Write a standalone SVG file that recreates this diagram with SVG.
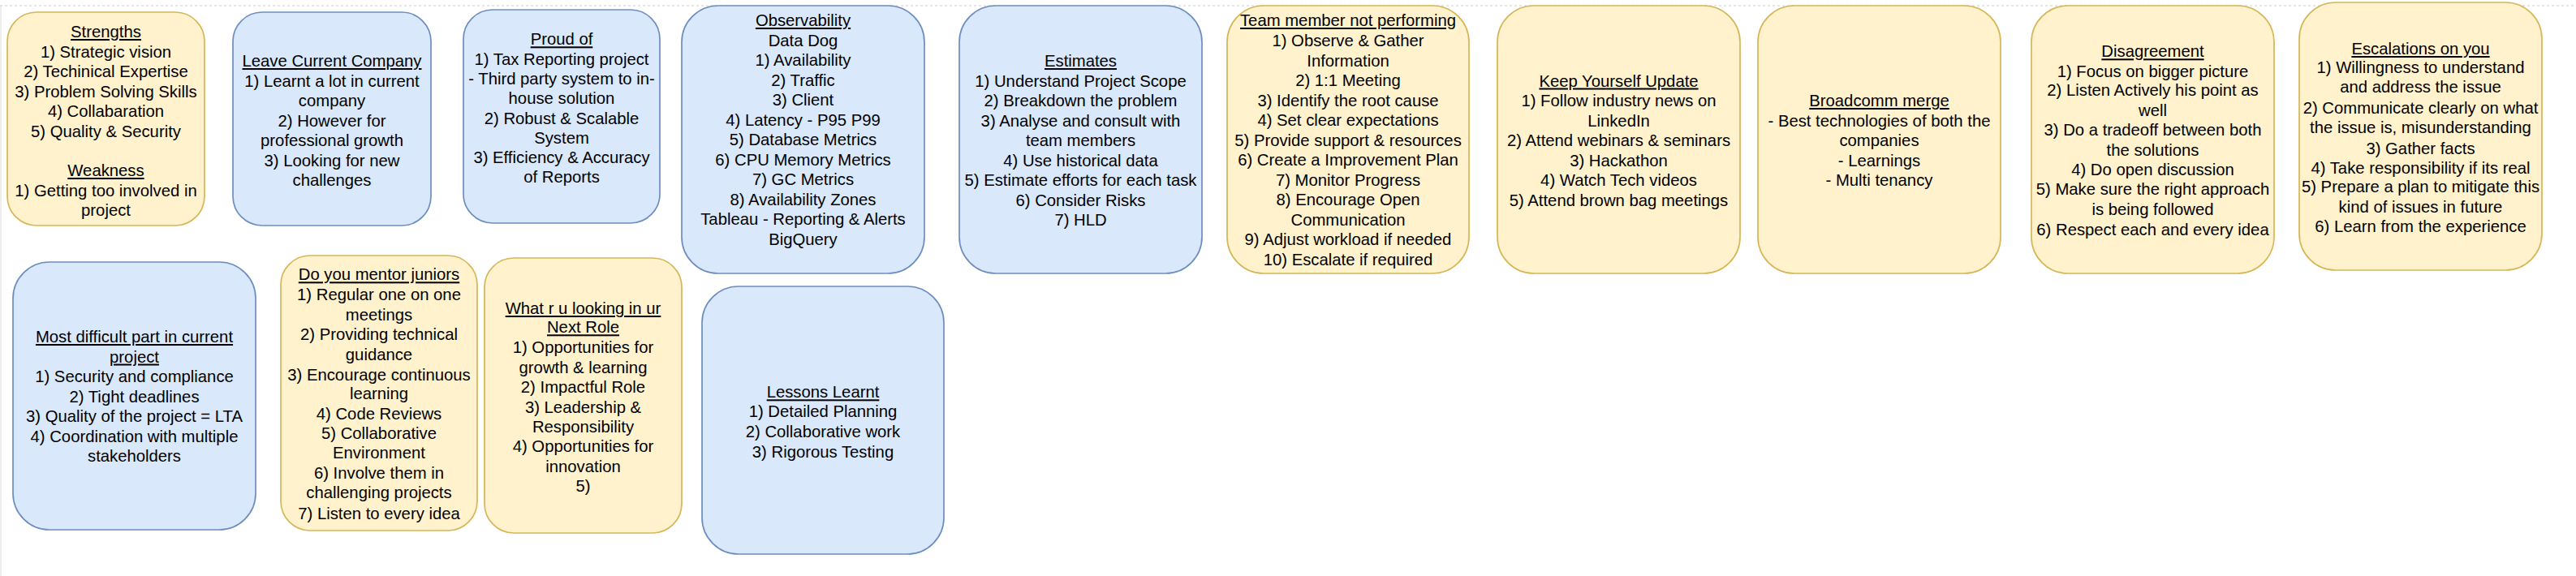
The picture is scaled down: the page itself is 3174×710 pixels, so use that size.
<svg xmlns="http://www.w3.org/2000/svg" width="3174" height="710" viewBox="0 0 3174 710">
<style>
.y{fill:#fff2cc;stroke:#d6b656;stroke-width:1.7}
.b{fill:#dae8fc;stroke:#6c8ebf;stroke-width:1.7}
text{font-family:"Liberation Sans",Arial,Helvetica,sans-serif;font-size:20.3px;fill:#000;text-anchor:middle}
.u{text-decoration:underline}
</style>
<rect width="3174" height="710" fill="#ffffff"/>
<line x1="0" y1="7" x2="3174" y2="7" stroke="#cccccc" stroke-width="1" stroke-dasharray="3,3"/>
<line x1="1" y1="7" x2="1" y2="710" stroke="#dddddd" stroke-width="1"/>
<g id="connectors"/>
<g id="node-strengths">
<rect class="y" x="9" y="15" width="243" height="263" rx="36" ry="36"/>
<text><tspan class="u" x="130.5" y="46">Strengths</tspan><tspan x="130.5" y="70.5">1) Strategic vision</tspan><tspan x="130.5" y="95">2) Techinical Expertise</tspan><tspan x="130.5" y="119.5">3) Problem Solving Skills</tspan><tspan x="130.5" y="144">4) Collabaration</tspan><tspan x="130.5" y="168.5">5) Quality &amp; Security</tspan><tspan class="u" x="130.5" y="217">Weakness</tspan><tspan x="130.5" y="241.5">1) Getting too involved in</tspan><tspan x="130.5" y="266">project</tspan></text>
</g>
<g id="node-leave">
<rect class="b" x="287" y="15" width="244" height="263" rx="36" ry="36"/>
<text><tspan class="u" x="409" y="82">Leave Current Company</tspan><tspan x="409" y="106.5">1) Learnt a lot in current</tspan><tspan x="409" y="131">company</tspan><tspan x="409" y="155.5">2) However for</tspan><tspan x="409" y="180">professional growth</tspan><tspan x="409" y="204.5">3) Looking for new</tspan><tspan x="409" y="229">challenges</tspan></text>
</g>
<g id="node-proud">
<rect class="b" x="571" y="12" width="242" height="263" rx="36" ry="36"/>
<text><tspan class="u" x="692" y="55.3">Proud of</tspan><tspan x="692" y="79.6">1) Tax Reporting project</tspan><tspan x="692" y="103.9">- Third party system to in-</tspan><tspan x="692" y="128.2">house solution</tspan><tspan x="692" y="152.5">2) Robust &amp; Scalable</tspan><tspan x="692" y="176.8">System</tspan><tspan x="692" y="201.1">3) Efficiency &amp; Accuracy</tspan><tspan x="692" y="225.4">of Reports</tspan></text>
</g>
<g id="node-observability">
<rect class="b" x="840" y="7" width="299" height="330" rx="45" ry="45"/>
<text><tspan class="u" x="989.5" y="32">Observability</tspan><tspan x="989.5" y="56.5">Data Dog</tspan><tspan x="989.5" y="81">1) Availability</tspan><tspan x="989.5" y="105.5">2) Traffic</tspan><tspan x="989.5" y="130">3) Client</tspan><tspan x="989.5" y="154.5">4) Latency - P95 P99</tspan><tspan x="989.5" y="179">5) Database Metrics</tspan><tspan x="989.5" y="203.5">6) CPU Memory Metrics</tspan><tspan x="989.5" y="228">7) GC Metrics</tspan><tspan x="989.5" y="252.5">8) Availability Zones</tspan><tspan x="989.5" y="277">Tableau - Reporting &amp; Alerts</tspan><tspan x="989.5" y="301.5">BigQuery</tspan></text>
</g>
<g id="node-estimates">
<rect class="b" x="1182" y="7" width="299" height="330" rx="45" ry="45"/>
<text><tspan class="u" x="1331.5" y="82">Estimates</tspan><tspan x="1331.5" y="106.5">1) Understand Project Scope</tspan><tspan x="1331.5" y="131">2) Breakdown the problem</tspan><tspan x="1331.5" y="155.5">3) Analyse and consult with</tspan><tspan x="1331.5" y="180">team members</tspan><tspan x="1331.5" y="204.5">4) Use historical data</tspan><tspan x="1331.5" y="229">5) Estimate efforts for each task</tspan><tspan x="1331.5" y="253.5">6) Consider Risks</tspan><tspan x="1331.5" y="278">7) HLD</tspan></text>
</g>
<g id="node-team-member">
<rect class="y" x="1512" y="7" width="298" height="330" rx="45" ry="45"/>
<text><tspan class="u" x="1661" y="32">Team member not performing</tspan><tspan x="1661" y="56.5">1) Observe &amp; Gather</tspan><tspan x="1661" y="81.5">Information</tspan><tspan x="1661" y="106">2) 1:1 Meeting</tspan><tspan x="1661" y="130.5">3) Identify the root cause</tspan><tspan x="1661" y="155">4) Set clear expectations</tspan><tspan x="1661" y="179.5">5) Provide support &amp; resources</tspan><tspan x="1661" y="204">6) Create a Improvement Plan</tspan><tspan x="1661" y="228.5">7) Monitor Progress</tspan><tspan x="1661" y="253">8) Encourage Open</tspan><tspan x="1661" y="277.5">Communication</tspan><tspan x="1661" y="302">9) Adjust workload if needed</tspan><tspan x="1661" y="326.5">10) Escalate if required</tspan></text>
</g>
<g id="node-keep-update">
<rect class="y" x="1845" y="7" width="299" height="330" rx="45" ry="45"/>
<text><tspan class="u" x="1994.5" y="106.5">Keep Yourself Update</tspan><tspan x="1994.5" y="131">1) Follow industry news on</tspan><tspan x="1994.5" y="155.5">LinkedIn</tspan><tspan x="1994.5" y="180">2) Attend webinars &amp; seminars</tspan><tspan x="1994.5" y="204.5">3) Hackathon</tspan><tspan x="1994.5" y="229">4) Watch Tech videos</tspan><tspan x="1994.5" y="253.5">5) Attend brown bag meetings</tspan></text>
</g>
<g id="node-broadcomm">
<rect class="y" x="2166" y="7" width="299" height="330" rx="45" ry="45"/>
<text><tspan class="u" x="2315.5" y="131">Broadcomm merge</tspan><tspan x="2315.5" y="155.5">- Best technologies of both the</tspan><tspan x="2315.5" y="180">companies</tspan><tspan x="2315.5" y="204.5">- Learnings</tspan><tspan x="2315.5" y="229">- Multi tenancy</tspan></text>
</g>
<g id="node-disagreement">
<rect class="y" x="2503" y="7" width="299" height="330" rx="45" ry="45"/>
<text><tspan class="u" x="2652.5" y="70.3">Disagreement</tspan><tspan x="2652.5" y="94.5">1) Focus on bigger picture</tspan><tspan x="2652.5" y="118">2) Listen Actively his point as</tspan><tspan x="2652.5" y="143">well</tspan><tspan x="2652.5" y="167">3) Do a tradeoff between both</tspan><tspan x="2652.5" y="192">the solutions</tspan><tspan x="2652.5" y="216.3">4) Do open discussion</tspan><tspan x="2652.5" y="240.3">5) Make sure the right approach</tspan><tspan x="2652.5" y="265.3">is being followed</tspan><tspan x="2652.5" y="289.7">6) Respect each and every idea</tspan></text>
</g>
<g id="node-escalations">
<rect class="y" x="2833" y="3" width="299" height="330" rx="45" ry="45"/>
<text><tspan class="u" x="2982.5" y="67">Escalations on you</tspan><tspan x="2982.5" y="90.3">1) Willingness to understand</tspan><tspan x="2982.5" y="114.3">and address the issue</tspan><tspan x="2982.5" y="140.3">2) Communicate clearly on what</tspan><tspan x="2982.5" y="163.7">the issue is, misunderstanding</tspan><tspan x="2982.5" y="189.7">3) Gather facts</tspan><tspan x="2982.5" y="213.7">4) Take responsibility if its real</tspan><tspan x="2982.5" y="237">5) Prepare a plan to mitigate this</tspan><tspan x="2982.5" y="262">kind of issues in future</tspan><tspan x="2982.5" y="286.3">6) Learn from the experience</tspan></text>
</g>
<g id="node-most-difficult">
<rect class="b" x="16" y="323" width="299" height="330" rx="45" ry="45"/>
<text><tspan class="u" x="165.5" y="422">Most difficult part in current</tspan><tspan class="u" x="165.5" y="446.5">project</tspan><tspan x="165.5" y="471">1) Security and compliance</tspan><tspan x="165.5" y="495.5">2) Tight deadlines</tspan><tspan x="165.5" y="520">3) Quality of the project = LTA</tspan><tspan x="165.5" y="544.5">4) Coordination with multiple</tspan><tspan x="165.5" y="569">stakeholders</tspan></text>
</g>
<g id="node-mentor">
<rect class="y" x="346" y="315" width="242" height="339" rx="36" ry="36"/>
<text><tspan class="u" x="467" y="345.3">Do you mentor juniors</tspan><tspan x="467" y="369.7">1) Regular one on one</tspan><tspan x="467" y="395.3">meetings</tspan><tspan x="467" y="418.7">2) Providing technical</tspan><tspan x="467" y="443.7">guidance</tspan><tspan x="467" y="468.7">3) Encourage continuous</tspan><tspan x="467" y="492">learning</tspan><tspan x="467" y="517">4) Code Reviews</tspan><tspan x="467" y="541">5) Collaborative</tspan><tspan x="467" y="565.3">Environment</tspan><tspan x="467" y="590.3">6) Involve them in</tspan><tspan x="467" y="614.3">challenging projects</tspan><tspan x="467" y="639.7">7) Listen to every idea</tspan></text>
</g>
<g id="node-next-role">
<rect class="y" x="597" y="318" width="243" height="339" rx="36" ry="36"/>
<text><tspan class="u" x="718.5" y="387">What r u looking in ur</tspan><tspan class="u" x="718.5" y="410.3">Next Role</tspan><tspan x="718.5" y="434.7">1) Opportunities for</tspan><tspan x="718.5" y="459.7">growth &amp; learning</tspan><tspan x="718.5" y="483.7">2) Impactful Role</tspan><tspan x="718.5" y="508.7">3) Leadership &amp;</tspan><tspan x="718.5" y="533">Responsibility</tspan><tspan x="718.5" y="557">4) Opportunities for</tspan><tspan x="718.5" y="582">innovation</tspan><tspan x="718.5" y="606.3">5)</tspan></text>
</g>
<g id="node-lessons">
<rect class="b" x="865" y="353" width="298" height="330" rx="45" ry="45"/>
<text><tspan class="u" x="1014" y="490.3">Lessons Learnt</tspan><tspan x="1014" y="514.3">1) Detailed Planning</tspan><tspan x="1014" y="539.3">2) Collaborative work</tspan><tspan x="1014" y="563.7">3) Rigorous Testing</tspan></text>
</g>
</svg>
